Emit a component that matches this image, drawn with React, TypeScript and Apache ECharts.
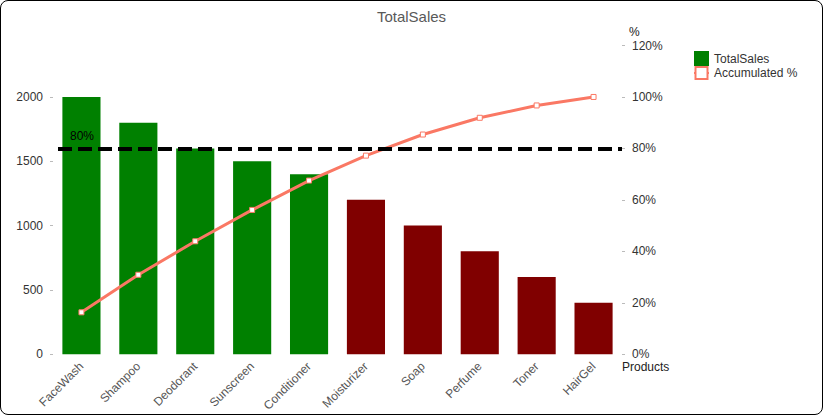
import React, { useEffect, useRef } from "react";
import * as echarts from "echarts";

const products = ["FaceWash", "Shampoo", "Deodorant", "Sunscreen", "Conditioner", "Moisturizer", "Soap", "Perfume", "Toner", "HairGel"];
const totalSales = [2000, 1800, 1600, 1500, 1400, 1200, 1000, 800, 600, 400];
const accumulatedPct = [16.3, 30.9, 43.9, 56.1, 67.5, 77.2, 85.4, 91.9, 96.7, 100];
const salesTicks = [0, 500, 1000, 1500, 2000];
const highlightCount = 5;
const threshold = 80;

export default function App() {
  const ref = useRef<HTMLDivElement>(null);
  useEffect(() => {
    document.body.style.margin = "0";
    const chart = echarts.init(ref.current!, null, { renderer: "svg" });
    const font = "Liberation Sans, Arial, sans-serif";
    chart.setOption({
      animation: false,
      textStyle: { fontFamily: font },
      title: {
        text: "TotalSales",
        left: "center",
        top: 3,
        textStyle: { fontSize: 15, fontWeight: "normal", color: "#595959", fontFamily: font },
      },
      graphic: [
        {
          type: "text",
          left: 628,
          top: 25,
          style: { text: "%", fontSize: 12, fill: "#222", font: "12px Liberation Sans, Arial, sans-serif" },
        },
      ],
      legend: {
        orient: "vertical",
        left: 687,
        top: 45,
        itemWidth: 15,
        itemHeight: 15,
        itemGap: 0,
        textStyle: { fontSize: 12, color: "#333", fontFamily: font },
        data: [
          { name: "TotalSales", icon: "rect", itemStyle: { color: "#008000" } },
          { name: "Accumulated %" },
        ],
      },
      grid: { left: 52, right: 200, top: 44.5, bottom: 59, containLabel: false },
      xAxis: {
        type: "category",
        data: products,
        name: "Products",
        nameLocation: "end",
        nameGap: 0,
        nameTextStyle: { fontSize: 12, color: "#222", align: "left", verticalAlign: "top", padding: [7, 0, 0, 0] },
        axisLine: { show: false },
        axisTick: { show: false },
        axisLabel: { rotate: 45, fontSize: 12, color: "#555", margin: 10, interval: 0 },
      },
      yAxis: [
        {
          type: "value",
          min: 0,
          max: 2400,
          interval: 500,
          axisLine: { show: false },
          axisTick: { show: true, length: 3, lineStyle: { color: "#bbb" }, customValues: salesTicks },
          splitLine: { show: false },
          axisLabel: {
            fontSize: 12,
            color: "#333",
            margin: 10,
            customValues: salesTicks,
            formatter: (v: number) => String(v),
          },
        },
        {
          type: "value",
          min: 0,
          max: 120,
          interval: 20,
          axisLine: { show: false },
          axisTick: { show: true, length: 3, lineStyle: { color: "#bbb" } },
          splitLine: { show: false },
          axisLabel: { fontSize: 12, color: "#333", margin: 10, formatter: "{value}%" },
        },
      ],
      series: [
        {
          name: "TotalSales",
          type: "bar",
          barCategoryGap: "33%",
          itemStyle: { color: "#008000" },
          data: totalSales.map((v, i) => ({
            value: v,
            itemStyle: { color: i < highlightCount ? "#008000" : "#800000" },
          })),
        },
        {
          name: "Accumulated %",
          type: "line",
          yAxisIndex: 1,
          data: accumulatedPct,
          symbol: "rect",
          symbolSize: 5,
          showAllSymbol: true,
          lineStyle: { color: "#FA7864", width: 3 },
          itemStyle: { color: "#fff", borderColor: "#FA7864", borderWidth: 1 },
          z: 3,
          markLine: {
            silent: true,
            symbol: "none",
            z: 5,
            lineStyle: { color: "#000", width: 4, type: [14, 6] },
            label: {
              position: "insideStartTop",
              formatter: "80%",
              color: "#000",
              fontSize: 12,
              distance: [12, 6],
            },
            data: [{ yAxis: threshold, x: 57 }],
          },
        },
      ],
    });
    return () => chart.dispose();
  }, []);
  return (
    <div
      style={{
        width: 821,
        height: 413,
        border: "1px solid #000",
        borderRadius: 8,
        overflow: "hidden",
        background: "#fff",
      }}
    >
      <div ref={ref} style={{ width: 821, height: 413 }} />
    </div>
  );
}
